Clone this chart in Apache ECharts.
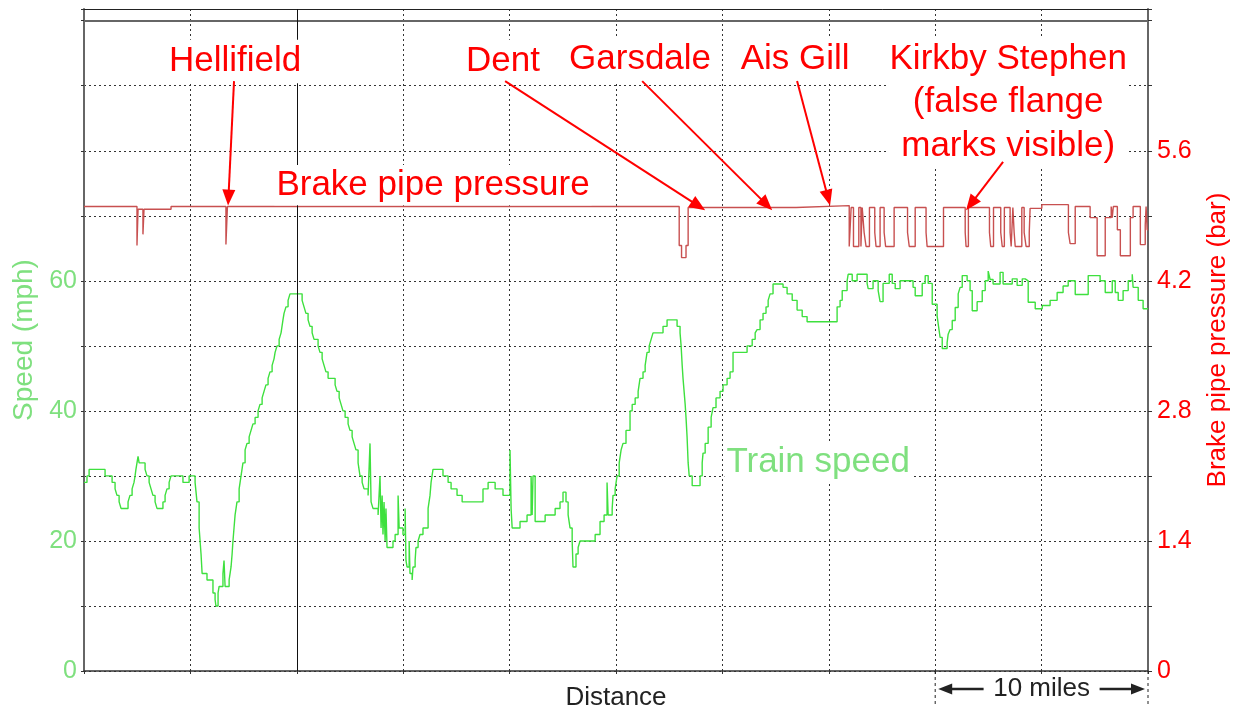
<!DOCTYPE html>
<html>
<head>
<meta charset="utf-8">
<script src="https://cdn.jsdelivr.net/npm/echarts@6/dist/echarts.min.js"></script>
<style>html,body{margin:0;padding:0;background:#fff}#c{width:1239px;height:716px}</style>
</head>
<body>
<div id="c"></div>
<script>
// ---- Data (distance in miles, speed in mph, brake pipe pressure in bar) ----
const speedDistance = [0.00,0.14,0.24,0.99,1.32,1.46,1.55,1.65,1.74,2.07,2.16,2.26,2.35,2.40,2.44,2.49,2.54,2.59,2.87,2.96,3.06,3.15,3.24,3.34,3.43,3.71,3.81,3.90,4.00,4.09,4.65,4.94,5.22,5.31,5.41,5.50,5.55,5.78,6.06,6.16,6.20,6.30,6.35,6.53,6.58,6.63,6.82,6.91,6.96,7.00,7.05,7.10,7.19,7.29,7.38,7.47,7.57,7.66,7.76,7.85,7.94,8.04,8.18,8.27,8.37,8.46,8.55,8.65,8.74,8.84,8.93,8.98,9.07,9.17,9.26,9.35,9.40,9.49,9.59,9.68,10.25,10.34,10.43,10.53,10.62,10.72,10.81,11.00,11.09,11.19,11.28,11.37,11.47,11.80,11.89,11.99,12.08,12.17,12.27,12.41,12.50,12.60,12.69,12.78,12.88,12.97,13.07,13.16,13.35,13.44,13.49,13.58,13.82,13.91,13.96,14.01,14.05,14.10,14.15,14.19,14.24,14.52,14.62,14.76,14.81,14.99,15.09,15.13,15.18,15.28,15.32,15.42,15.46,15.56,15.60,15.70,15.79,15.93,16.17,16.26,16.31,16.40,16.87,17.11,17.25,17.53,17.77,18.75,18.99,19.32,19.69,20.02,20.07,20.12,20.49,20.82,21.01,21.06,21.10,21.20,21.67,22.14,22.37,22.51,22.65,22.75,22.84,22.94,22.98,23.12,23.22,23.31,24.02,24.25,24.44,24.58,24.63,24.82,24.86,24.96,25.05,25.15,25.24,25.33,25.47,25.66,25.76,25.90,26.04,26.13,26.27,26.37,26.46,26.56,26.65,26.74,27.21,27.40,27.87,28.01,28.06,28.11,28.15,28.20,28.25,28.29,28.34,28.39,28.44,28.58,28.95,29.05,29.09,29.19,29.33,29.47,29.56,29.70,29.89,30.03,30.22,30.36,30.50,31.16,31.40,31.54,31.63,31.77,31.91,32.05,32.15,32.24,32.38,32.85,33.04,33.28,33.51,33.75,33.98,35.39,35.53,35.63,35.86,35.91,36.10,36.33,36.80,36.85,37.08,37.32,37.41,37.55,37.84,37.98,38.12,38.35,38.96,39.06,39.39,39.53,39.67,39.86,40.09,40.14,40.23,40.33,40.56,40.61,40.70,40.80,40.94,41.08,41.17,41.27,41.50,41.64,41.74,41.97,42.21,42.35,42.49,42.58,42.72,43.05,43.19,43.62,43.85,44.09,44.23,44.37,44.70,45.03,45.40,45.73,46.01,46.25,46.58,47.19,47.75,47.99,48.32,48.46,48.60,48.83,49.07,49.26,49.30,49.54,49.77,50.00];
const speedMph = [29,30,31,30,29,28,27,26,25,26,27,28,29,30,31,32,33,32,31,30,29,28,27,26,25,26,27,28,29,30,29,30,29,26,22,18,15,14,12,11,10,12,13,15,17,13,14,16,18,20,22,24,26,28,30,32,34,35,36,37,38,39,40,41,42,43,44,45,46,47,48,49,50,51,52,54,55,56,57,58,57,56,55,54,53,52,51,50,49,48,47,46,45,44,43,42,41,40,39,38,37,36,35,34,32,30,29,28,27,35,26,25,24,30,22,27,21,26,20,25,19,20,21,27,22,21,25,17,16,20,15,14,16,17,19,20,21,22,25,27,29,31,30,29,28,27,26,28,29,28,27,34,25,22,23,24,30,24,30,23,24,25,26,27.5,26,24,22,20,16,18,19,20,21,23,24,29,24,25,27,28,30,32,34,35,37,40,41,42,43,45,46,47,49,50,51,52,53,54,53,52,50,47,45,43,41,39,36,32,30,28.5,30,32,33.5,35,37.5,39,40.5,42,43,44,45,46,49,50,51,52,52.5,54,55,56,57,58,59.5,59,58,57,55.5,54.5,53.7,56,57,58.5,60,61,60,61,59.6,58.8,60,58.5,56.8,59.6,61,59.6,58.8,60,59,57.7,59.6,60.8,59.6,56.4,54.6,53.4,51.3,49.6,50.5,51.8,52.5,53.9,55.9,58,59,60.8,60,58.5,55.4,56.8,58.5,60,61.5,60.2,59.5,61.3,59.5,60.3,59.3,60.3,60,56.7,55.7,56.2,57,58.2,59.2,60,57.9,60.8,60,58.2,60,58.2,57,58.5,60,61,59,57,55.7,55.7];
const pressureDistance = [0.00,2.49,2.54,2.77,2.82,4.09,6.67,6.74,27.97,28.08,28.29,28.39,33.46,35.96,36.05,36.16,36.41,36.51,36.57,36.66,36.75,36.91,37.16,37.22,37.41,37.60,37.67,38.07,38.70,38.78,39.06,39.57,39.62,40.39,41.41,41.45,41.56,42.55,42.61,42.74,43.08,43.15,43.25,43.52,43.57,43.65,43.71,43.76,44.07,44.18,44.27,44.42,44.46,45.01,46.26,46.34,46.58,47.28,47.61,47.99,48.27,48.32,48.37,48.56,48.70,49.17,49.30,49.64,49.87,49.91,49.96,50.00];
const pressureBar = [5.0,4.58,4.97,4.70,4.97,5.0,4.59,5.0,4.58,4.45,4.58,4.99,5.01,4.57,4.99,4.57,4.99,4.57,4.99,4.72,4.57,4.99,4.72,4.57,4.99,4.72,4.57,4.99,4.72,4.57,4.99,4.72,4.57,4.99,4.72,4.57,4.99,4.72,4.57,4.99,4.72,4.57,4.99,4.72,4.57,4.99,4.72,4.57,4.99,4.72,4.57,4.72,4.98,5.02,4.72,4.60,5.0,4.88,4.47,4.88,5.0,4.88,5.0,4.75,4.47,4.88,5.0,4.59,4.8,5.0,4.75,4.75];
const speedTickLabels = ['0','20','40','60'];
const pressureTickLabels = ['0','1.4','2.8','4.2','5.6'];
const xAxisName = 'Distance';
const speedAxisName = 'Speed (mph)';
const pressureAxisName = 'Brake pipe pressure (bar)';

// ---- Annotations (anchored in data units: miles, bar / mph) ----
const stationNotes = [
  {text:'Hellifield', label:[7.10,6.56], from:[7.05,6.35], to:[6.77,5.01]},
  {text:'Dent', label:[19.69,6.56], from:[19.79,6.35], to:[29.19,4.96]},
  {text:'Garsdale', label:[26.13,6.58], from:[26.23,6.35], to:[32.34,4.96]},
  {text:'Ais Gill', label:[33.42,6.58], from:[33.51,6.35], to:[35.06,5.01]},
  {text:'Kirkby Stephen\n(false flange\nmarks visible)', label:[43.43,6.12], from:[43.19,5.48], to:[41.45,4.96]}
];
const pressureNote = {text:'Brake pipe pressure', at:[16.40,5.23]};
const speedNote = {text:'Train speed', at:[34.5,32.05]};
const scaleNote = {text:'10 miles', from:40, to:50};

const SPEED_MAX = 101.8;
const PRESS_MAX = SPEED_MAX * 0.07;
const FONT = '"Liberation Sans", Arial, Helvetica, sans-serif';
const GREEN_TXT = '#7fe07f';
const RED = '#ff0000';

const chart = echarts.init(document.getElementById('c'), null, {renderer:'canvas'});
const dotted = {color:'#333', width:1, type:[2,3]};

const option = {
  animation:false,
  backgroundColor:'#fff',
  grid:{left:84, right:91, top:9, bottom:40, containLabel:false},
  xAxis:[{
    type:'value', min:0, max:50, interval:5,
    name:xAxisName, nameLocation:'middle', nameGap:14,
    nameTextStyle:{color:'#222', fontSize:26, fontFamily:FONT},
    axisLine:{show:true, onZero:false, lineStyle:{color:'#333', width:1.5}},
    axisTick:{show:true, length:3, lineStyle:{color:'#333'}},
    axisLabel:{show:false},
    splitLine:{show:true, lineStyle:dotted}
  },{
    type:'value', min:0, max:50, position:'top',
    axisLine:{show:true, onZero:false, lineStyle:{color:'#222', width:1}},
    axisTick:{show:false}, axisLabel:{show:false}, splitLine:{show:false}
  }],
  yAxis:[{
    type:'value', min:0, max:SPEED_MAX, interval:10, position:'left',
    name:speedAxisName, nameLocation:'middle', nameGap:46, nameRotate:90,
    nameTextStyle:{color:GREEN_TXT, fontSize:28, fontFamily:FONT},
    axisLine:{show:true, onZero:false, lineStyle:{color:'#666', width:2}},
    axisTick:{show:true, length:3, lineStyle:{color:'#333'}},
    axisLabel:{color:GREEN_TXT, fontSize:25, fontFamily:FONT, margin:7,
      formatter:v=>{const s=String(Math.round(v)); return (Math.abs(v-Math.round(v))<1e-6 && speedTickLabels.includes(s))?s:'';}},
    splitLine:{show:true, lineStyle:dotted}
  },{
    type:'value', min:0, max:PRESS_MAX, interval:0.7, position:'right',
    name:pressureAxisName, nameLocation:'middle', nameGap:57, nameRotate:90,
    nameTextStyle:{color:RED, fontSize:26, fontFamily:FONT},
    axisLine:{show:true, onZero:false, lineStyle:{color:'#666', width:2}},
    axisTick:{show:true, length:4, lineStyle:{color:'#333'}},
    axisLabel:{color:RED, fontSize:25, fontFamily:FONT, margin:9,
      formatter:v=>{const s=(Math.round(v*10)/10).toString(); return (Math.abs(v*10-Math.round(v*10))<1e-6 && pressureTickLabels.includes(s))?s:'';}},
    splitLine:{show:false}
  }],
  series:[{
    name:'Train speed', type:'line', xAxisIndex:0, yAxisIndex:0, step:'end',
    showSymbol:false, symbol:'none', silent:true,
    lineStyle:{color:'#3ee03e', width:1.4},
    data:speedDistance.map((d,i)=>[d, speedMph[i]]),
    markLine:{silent:true, symbol:['none','none'], label:{show:false}, animation:false,
      data:[
        {yAxis:100, lineStyle:{color:'#666', width:2, type:'solid'}},
        {xAxis:10, lineStyle:{color:'#111', width:1, type:'solid'}}
      ]},
    z:3
  },{
    name:'Brake pipe pressure', type:'line', xAxisIndex:0, yAxisIndex:1, step:'end',
    showSymbol:false, symbol:'none', silent:true,
    lineStyle:{color:'#c85050', width:1.4},
    data:pressureDistance.map((d,i)=>[d, pressureBar[i]]),
    z:4
  }]
};
chart.setOption(option);

// ---- Annotation overlay, positioned through the chart's own scales ----
function px(seriesIndex, pt){ return chart.convertToPixel({seriesIndex:seriesIndex}, pt); }
function arrow(p0, p1, color, lw, headLen, headW){
  const dx=p1[0]-p0[0], dy=p1[1]-p0[1], L=Math.hypot(dx,dy), ux=dx/L, uy=dy/L;
  const bx=p1[0]-ux*headLen, by=p1[1]-uy*headLen, nx=-uy, ny=ux;
  return [
    {type:'line', silent:true, z:100, shape:{x1:p0[0],y1:p0[1],x2:bx+ux,y2:by+uy}, style:{stroke:color, lineWidth:lw}},
    {type:'polygon', silent:true, z:100, shape:{points:[[p1[0],p1[1]],[bx+nx*headW/2,by+ny*headW/2],[bx-nx*headW/2,by-ny*headW/2]]}, style:{fill:color}}
  ];
}
function label(p, text, color, size, lh){
  return {type:'text', silent:true, z:90, x:p[0], y:p[1],
    style:{text:text, fill:color, font:size+'px '+FONT, align:'center', verticalAlign:'middle',
      lineHeight:lh||size*1.15, backgroundColor:'#fff', padding:[0,2]}};
}
const g = [];
stationNotes.forEach(n=>{
  g.push(label(px(1,n.label), n.text, RED, 35, 43.5));
  arrow(px(1,n.from), px(1,n.to), RED, 2, 16, 13).forEach(e=>g.push(e));
});
g.push(label(px(1,pressureNote.at), pressureNote.text, RED, 35));
g.push(label(px(0,speedNote.at), speedNote.text, GREEN_TXT, 35));

// "10 miles" scale bar under the axis
const xa = chart.convertToPixel({xAxisIndex:0}, scaleNote.from);
const xb = chart.convertToPixel({xAxisIndex:0}, scaleNote.to);
const yBase = px(0,[0,0])[1];
const yMid = yBase + 18;
[xa, xb].forEach(x=>g.push({type:'line', silent:true, z:100, shape:{x1:x,y1:yBase,x2:x,y2:yBase+34}, style:{stroke:'#222', lineWidth:1, lineDash:[3,3]}}));
const xm = (xa+xb)/2;
arrow([xm-58, yMid],[xa+3, yMid], '#222', 2.5, 14, 11).forEach(e=>g.push(e));
arrow([xm+58, yMid],[xb-3, yMid], '#222', 2.5, 14, 11).forEach(e=>g.push(e));
g.push({type:'text', silent:true, z:100, x:xm, y:yMid, style:{text:scaleNote.text, fill:'#222', font:'26px '+FONT, align:'center', verticalAlign:'middle'}});

chart.setOption({graphic:{elements:g}});
</script>
</body>
</html>
